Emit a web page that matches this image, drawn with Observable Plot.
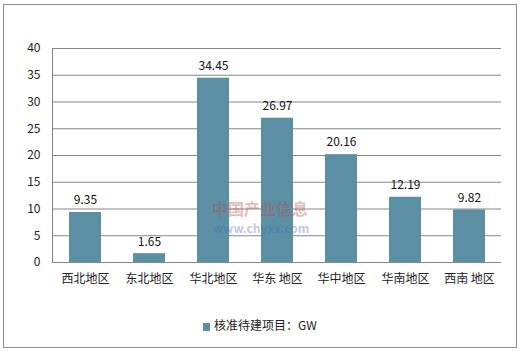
<!DOCTYPE html>
<html><head><meta charset="utf-8">
<script src="https://cdn.jsdelivr.net/npm/d3@7"></script>
<script src="https://cdn.jsdelivr.net/npm/@observablehq/plot@0.6"></script>
<style>
body{margin:0;background:#fff;font-family:"Noto Sans CJK SC","Noto Sans",sans-serif;}
#wrap{position:relative;width:520px;height:351px;overflow:hidden;}
#border{position:absolute;left:3px;top:4px;width:512px;height:342px;border:1px solid #8c8c8c;}
#chart{position:absolute;left:0;top:0;}
#legend{position:absolute;left:0;top:316px;width:520px;text-align:center;font-size:12px;color:#222;}
#legend span.sw{display:inline-block;width:7px;height:8px;background:#5b8fa3;margin-right:4px;vertical-align:-1px;}
</style></head>
<body><div id="wrap"><div id="border"></div><div id="chart"></div><div id="legend"></div></div>
<script>
const categories = ["西北地区","东北地区","华北地区","华东 地区","华中地区","华南地区","西南 地区"];
const values = [9.35, 1.65, 34.45, 26.97, 20.16, 12.19, 9.82];
const yTicks = [0,5,10,15,20,25,30,35,40];
const seriesName = "核准待建项目：GW";
const data = categories.map((c,i)=>({c, v: values[i]}));
const barColor = "#5b8fa3";

const plot = Plot.plot({
  width: 520, height: 300,
  marginLeft: 52, marginRight: 19, marginTop: 48, marginBottom: 38,
  style: {fontFamily: '"Noto Sans CJK SC","Noto Sans",sans-serif', fontSize: "12px", color: "#222", background: "transparent"},
  x: {domain: categories, paddingInner: 0.5, paddingOuter: 0.25, label: null},
  y: {domain: [0,40], label: null},
  marks: [
    Plot.gridY(yTicks, {stroke: "#868686", strokeOpacity: 1}),
    Plot.axisY({ticks: yTicks, tickSize: 0, tickPadding: 12, label: null, fontSize: 12}),
    Plot.axisX({tickSize: 0, tickPadding: 12, label: null, fontSize: 12}),
    Plot.barY(data, {x: "c", y: "v", fill: barColor}),
    Plot.text(data, {x: "c", y: "v", text: d => d.v.toFixed(2), dy: -12, fontSize: 12, fill: "#111"}),
    Plot.text(["中国产业信息"], {frameAnchor: "middle", dx: -17, dy: 54, fontSize: 16, fontWeight: "bold", fill: "#c0504d", fillOpacity: 0.4}),
    Plot.text(["www.chyxx.com"], {frameAnchor: "middle", dx: -16, dy: 74, fontSize: 12, fontWeight: "bold", fill: "#4f6fb8", fillOpacity: 0.4})
  ]
});
document.getElementById("chart").appendChild(plot);
const svg = d3.select(plot);
svg.append("line").attr("x1",52.5).attr("x2",52.5).attr("y1",48).attr("y2",262).attr("stroke","#868686");
document.getElementById("legend").innerHTML = '<span class="sw"></span>' + seriesName;
</script></body></html>
